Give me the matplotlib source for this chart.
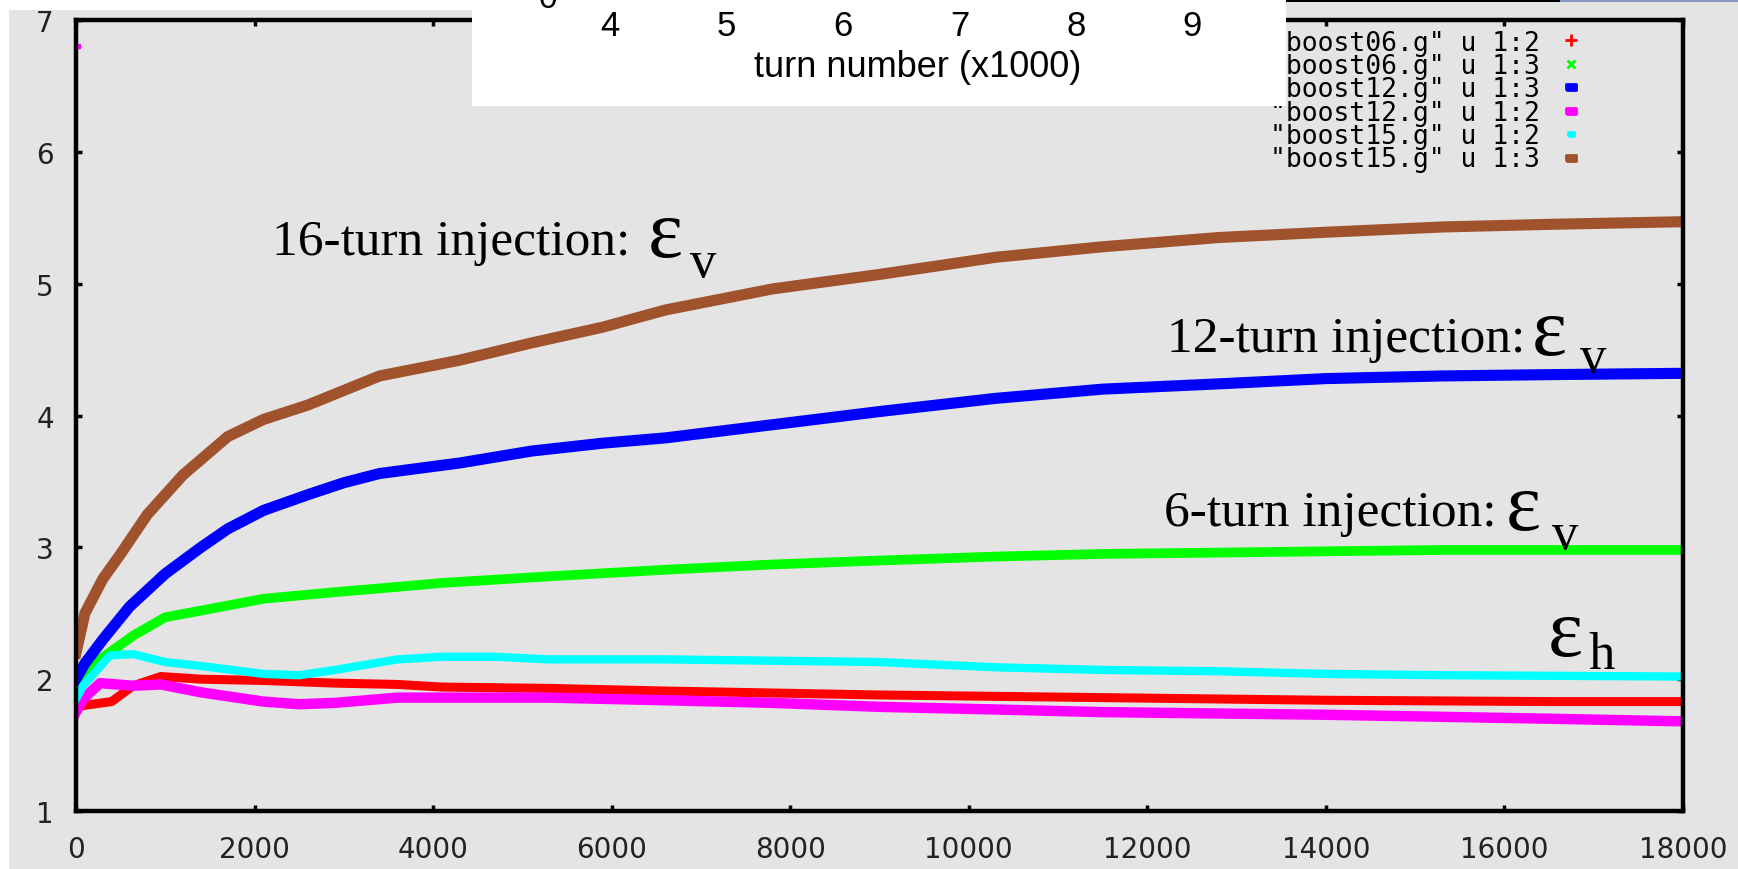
import matplotlib.pyplot as plt
from matplotlib.patches import Rectangle

W, H = 1738, 870

# boost06.g u 1:2  (6-turn, horizontal)
red_turns = [0, 80, 400, 640, 950, 1400, 2100, 2900, 3600, 4100, 5300, 6600, 9000, 11500, 14000, 16500, 18000]
red_eps = [1.78, 1.80, 1.83, 1.95, 2.02, 2.00, 1.99, 1.97, 1.96, 1.94, 1.93, 1.91, 1.88, 1.86, 1.84, 1.83, 1.83]

# boost06.g u 1:3  (6-turn, vertical)
green_turns = [0, 100, 270, 640, 1000, 1400, 2100, 2900, 3600, 4100, 5300, 6600, 7800, 9000, 10300, 11500, 12800, 14000, 15300, 18000]
green_eps = [1.95, 2.05, 2.15, 2.33, 2.47, 2.52, 2.61, 2.66, 2.70, 2.73, 2.78, 2.83, 2.87, 2.90, 2.93, 2.95, 2.96, 2.97, 2.98, 2.98]

# boost12.g u 1:3  (12-turn, vertical)
blue_turns = [0, 100, 300, 600, 1000, 1400, 1700, 2100, 2600, 3000, 3400, 4300, 5100, 5900, 6600, 7800, 9000, 10300, 11500, 12800, 14000, 15300, 16500, 18000]
blue_eps = [2.0, 2.12, 2.3, 2.55, 2.8, 3.0, 3.14, 3.28, 3.40, 3.49, 3.56, 3.64, 3.73, 3.79, 3.83, 3.93, 4.03, 4.13, 4.20, 4.24, 4.28, 4.30, 4.31, 4.32]

# boost12.g u 1:2  (12-turn, horizontal)
magenta_turns = [0, 80, 270, 640, 950, 1400, 2100, 2500, 2900, 3600, 4100, 5300, 6600, 7800, 9000, 10300, 11500, 14000, 16500, 18000]
magenta_eps = [1.75, 1.85, 1.97, 1.95, 1.96, 1.90, 1.83, 1.81, 1.82, 1.86, 1.86, 1.86, 1.84, 1.82, 1.79, 1.77, 1.75, 1.73, 1.70, 1.68]
magenta_stray_turns = [20]
magenta_stray_eps = [6.8]

# boost15.g u 1:2  (16-turn, horizontal)
cyan_turns = [0, 80, 380, 640, 1000, 1400, 2100, 2500, 2900, 3600, 4100, 4700, 5300, 6600, 7800, 9000, 10300, 11500, 12800, 14000, 15300, 18000]
cyan_eps = [1.85, 1.95, 2.18, 2.19, 2.13, 2.10, 2.04, 2.03, 2.07, 2.15, 2.17, 2.17, 2.15, 2.15, 2.14, 2.13, 2.09, 2.07, 2.06, 2.04, 2.03, 2.02]

# boost15.g u 1:3  (16-turn, vertical)
brown_turns = [0, 100, 300, 500, 800, 1200, 1700, 2100, 2600, 3000, 3400, 4300, 5100, 5900, 6600, 7800, 9000, 10300, 11500, 12800, 14000, 15300, 16500, 18000]
brown_eps = [2.2, 2.5, 2.76, 2.95, 3.25, 3.55, 3.84, 3.97, 4.08, 4.19, 4.30, 4.42, 4.55, 4.67, 4.80, 4.96, 5.07, 5.20, 5.28, 5.35, 5.39, 5.43, 5.45, 5.47]

series_labels = ['"boost06.g" u 1:2', '"boost06.g" u 1:3', '"boost12.g" u 1:3',
                 '"boost12.g" u 1:2', '"boost15.g" u 1:2', '"boost15.g" u 1:3']
series_colors = ['#ff0000', '#00ff00', '#0000ff', '#ff00ff', '#00ffff', '#a0522d']

x_ticks = list(range(0, 18001, 2000))
y_ticks = [1, 2, 3, 4, 5, 6, 7]
box_ticks = [4, 5, 6, 7, 8, 9]

gray = '#e4e4e4'


def px(x, y):
    # pixel position (from top-left) -> figure fraction
    return x / W, 1 - y / H


fig = plt.figure(figsize=(W / 100, H / 100), dpi=100)

# gray screenshot background and white strips
fig.patches.append(Rectangle(px(9, 870), 1 - 9 / W, (870 - 11) / H, transform=fig.transFigure,
                             facecolor=gray, edgecolor='none', zorder=-2))
fig.patches.append(Rectangle(px(1286, 11), (1738 - 1286) / W, 8 / H, transform=fig.transFigure,
                             facecolor=gray, edgecolor='none', zorder=-2))
fig.patches.append(Rectangle(px(1286, 3), (1560 - 1286) / W, 3 / H, transform=fig.transFigure,
                             facecolor='black', edgecolor='none', zorder=2))
fig.patches.append(Rectangle(px(1560, 3), (1738 - 1560) / W, 3 / H, transform=fig.transFigure,
                             facecolor='#8a98c8', edgecolor='none', zorder=2))
fig.patches.append(Rectangle(px(0, 11), 1286 / W, 11 / H, transform=fig.transFigure,
                             facecolor='white', edgecolor='none', zorder=2))

left, right, top, bottom = 76, 1683, 21, 812
ax = fig.add_axes([left / W, 1 - bottom / H, (right - left) / W, (bottom - top) / H])
ax.set_facecolor(gray)


def ax_xy(x, y):
    # pixel position -> axes fraction
    return (x - left) / (right - left), (bottom - y) / (bottom - top)


ax.plot(red_turns, red_eps, color=series_colors[0], lw=6.5)
ax.plot(green_turns, green_eps, color=series_colors[1], lw=7)
ax.plot(blue_turns, blue_eps, color=series_colors[2], lw=8)
ax.plot(magenta_turns, magenta_eps, color=series_colors[3], lw=7.5)
ax.plot(magenta_stray_turns, magenta_stray_eps, 's', color=series_colors[3], ms=3)
ax.plot(cyan_turns, cyan_eps, color=series_colors[4], lw=6)
ax.plot(brown_turns, brown_eps, color=series_colors[5], lw=8)

ax.set_xlim(0, 18000)
ax.set_ylim(1, 7)
ax.set_xticks(x_ticks)
ax.set_yticks(y_ticks)
for s in ax.spines.values():
    s.set_linewidth(3.2)
ax.tick_params(direction='in', length=4, width=2.5, top=True, right=True,
               labelsize=20, colors='black')
ax.tick_params(axis='x', pad=17)
ax.tick_params(axis='y', pad=16)
for lab in ax.get_xticklabels() + ax.get_yticklabels():
    lab.set_color('#222222')

# key in gnuplot style: text block, point symbol to its right
ax.text(*ax_xy(1540, 102), '\n'.join(series_labels), transform=ax.transAxes,
        ha='right', va='center', multialignment='right',
        family='DejaVu Sans Mono', fontsize=19, linespacing=0.86)
rect = [(-1, -0.6), (1, -0.6), (1, 0.6), (-1, 0.6), (-1, -0.6)]
key_markers = ['+', 'x', rect, rect, rect, rect]
key_sizes = [8, 6, 7, 7, 5, 7]
for i, (m, s, c) in enumerate(zip(key_markers, key_sizes, series_colors)):
    ax.plot(*ax_xy(1571, 41 + i * 23.5), ls='none', marker=m, ms=s, mew=2, color=c,
            transform=ax.transAxes)

# pasted white box with axis fragment of another plot
box = fig.add_axes([472 / W, 1 - 107 / H, (1286 - 472) / W, 107 / H], zorder=3)
box.set_facecolor('white')
box.set_xlim(4 - 138 / 116.5, 4 + 676 / 116.5)
box.set_ylim(0, 1)
box.set_yticks([])
for s in box.spines.values():
    s.set_visible(False)
box.spines['bottom'].set_position(('axes', 1.0))
box.set_xticks(box_ticks)
box.tick_params(axis='x', length=0, pad=7, labelsize=25, labelfontfamily='Liberation Sans')
box.set_xlabel('turn number (x1000)', fontsize=26, family='Liberation Sans')
box.xaxis.set_label_coords(0.548, 0.53)

# cut-off remnants at the top edge
fig.text(*px(548, 8), '0', ha='center', va='baseline', fontsize=24, family='Liberation Sans', zorder=4)
fig.text(*px(244, -3), '(mm)', ha='left', va='baseline', fontsize=25, family='Liberation Sans', zorder=1)

# annotations
serif = 'Liberation Serif'
ann_labels = ['16-turn injection:', '12-turn injection:', '6-turn injection:']
ann_pos = [(272, 255), (1167, 352), (1164, 526)]
eps_pos = [(648, 257), (1532, 355), (1506, 530)]
sub_pos = [(690, 277), (1580, 372), (1552, 549)]
for lab, p, e, s in zip(ann_labels, ann_pos, eps_pos, sub_pos):
    fig.text(*px(*p), lab, fontsize=37, family=serif, va='baseline')
    fig.text(*px(*e), '\u03b5', fontsize=60, family=serif, va='baseline')
    fig.text(*px(*s), 'v', fontsize=38, family=serif, va='baseline')
fig.text(*px(1548, 656), '\u03b5', fontsize=60, family=serif, va='baseline')
fig.text(*px(1588, 669), 'h', fontsize=38, family=serif, va='baseline')

fig.savefig('out.png', dpi=100)
